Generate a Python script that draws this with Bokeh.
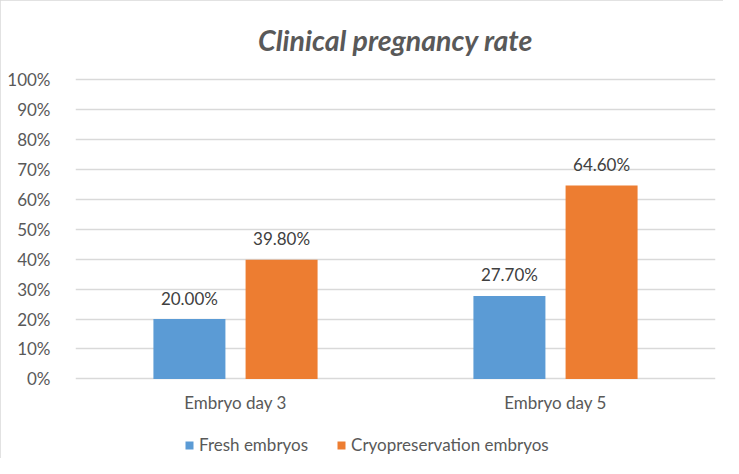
from bokeh.plotting import figure
from bokeh.models import ColumnDataSource, FactorRange, Range1d, NumeralTickFormatter, LabelSet, Legend, LegendItem, FixedTicker
from bokeh.core.properties import value
from bokeh.transform import dodge
from bokeh.embed import file_html
from bokeh.resources import INLINE

categories = ["Embryo day 3", "Embryo day 5"]
fresh = [0.200, 0.277]
cryo = [0.398, 0.646]
fresh_labels = ["20.00%", "27.70%"]
cryo_labels = ["39.80%", "64.60%"]
series_names = ["Fresh embryos", "Cryopreservation embryos"]
y_ticks = [0, 0.1, 0.2, 0.3, 0.4, 0.5, 0.6, 0.7, 0.8, 0.9, 1.0]

src = ColumnDataSource(dict(cat=categories, zero=[0] * len(categories),
                            fresh=fresh, cryo=cryo, fl=fresh_labels, cl=cryo_labels))

FONT = "Lato"
FS = "17px"
p = figure(x_range=FactorRange(*categories), y_range=Range1d(-0.2558, 1.01),
           width=723, height=458, output_backend="svg", toolbar_location=None,
           min_border_left=75, min_border_right=8, min_border_top=74, min_border_bottom=3)

p.title.text = "Clinical pregnancy rate"
p.title.align = "center"
p.title.offset = -26
p.title.text_font = FONT
p.title.text_font_size = "28.5px"
p.title.text_font_style = "bold italic"
p.title.text_color = "#595959"
p.title.standoff = 40

r1 = p.vbar(x=dodge("cat", -0.144, range=p.x_range), top="fresh", width=0.225,
            source=src, color="#5B9BD5", line_color=None)
r2 = p.vbar(x=dodge("cat", 0.144, range=p.x_range), top="cryo", width=0.225,
            source=src, color="#ED7D31", line_color=None)

for col, lab, off in (("fresh", "fl", -0.144), ("cryo", "cl", 0.144)):
    ls = LabelSet(x=dodge("cat", off, range=p.x_range), y=col, text=lab, source=src,
                  text_align="center", text_baseline="middle", y_offset=21,
                  text_font=value(FONT), text_font_size=value(FS), text_color="#404040")
    p.add_layout(ls)

# category labels under the 0% line
cat_labels = LabelSet(x="cat", y="zero", text="cat", source=src,
                      text_align="center", text_baseline="middle", y_offset=-24,
                      text_font=value(FONT), text_font_size=value(FS), text_color="#595959")
p.add_layout(cat_labels)

legend = Legend(items=[LegendItem(label=series_names[0], renderers=[r1]),
                       LegendItem(label=series_names[1], renderers=[r2])],
                orientation="horizontal", location=(109, 0),
                glyph_width=10, glyph_height=10, label_text_font=FONT,
                label_text_font_size=FS, label_text_color="#595959",
                border_line_color=None, background_fill_alpha=0,
                spacing=28, label_standoff=5, margin=0, padding=2)
p.add_layout(legend)

p.yaxis.ticker = FixedTicker(ticks=y_ticks)
p.yaxis.formatter = NumeralTickFormatter(format="0%")
p.yaxis.axis_line_color = None
p.yaxis.major_tick_line_color = None
p.yaxis.minor_tick_line_color = None
p.yaxis.major_label_text_font = FONT
p.yaxis.major_label_text_font_size = FS
p.yaxis.major_label_text_color = "#595959"
p.yaxis.major_label_standoff = 19

p.xaxis.visible = False

p.xgrid.grid_line_color = None
p.ygrid.grid_line_color = "#d9d9d9"
p.ygrid.grid_line_width = 1.5
p.outline_line_color = None
p.x_range.range_padding = 0
p.x_range.group_padding = 0
p.styles = {"outline": "2px solid #d9d9d9", "outline-offset": "-2px"}

open("out.html", "w").write(file_html(p, INLINE))
